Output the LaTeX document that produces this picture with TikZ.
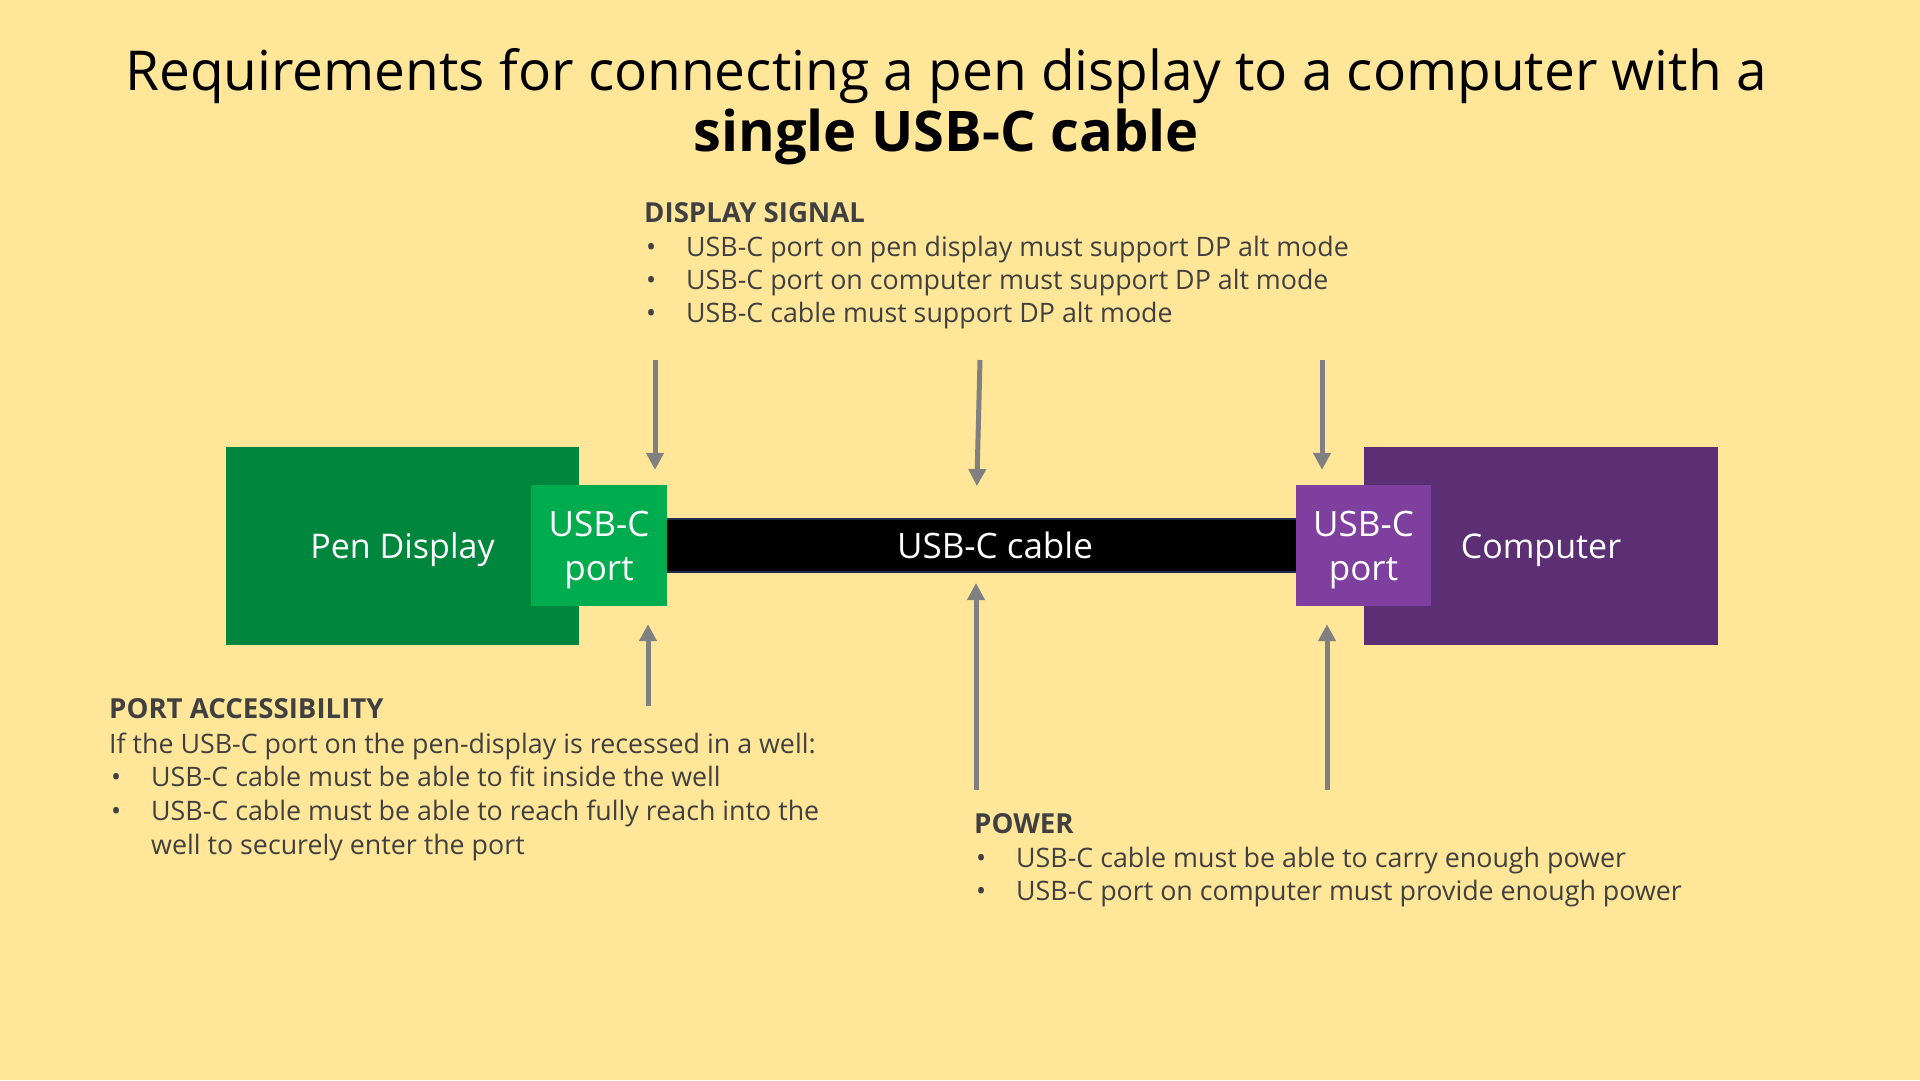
\documentclass[tikz,border=0pt]{standalone}
\usepackage{fontspec}
\setmainfont{Open Sans}
\usetikzlibrary{arrows.meta}

\definecolor{bg}{HTML}{FFE699}
\definecolor{pengreen}{HTML}{00873D}
\definecolor{portgreen}{HTML}{00AC4E}
\definecolor{pcpurple}{HTML}{5C2E73}
\definecolor{portpurple}{HTML}{7F3F9F}
\definecolor{txtgray}{HTML}{404040}
\definecolor{arrowgray}{HTML}{808080}
\definecolor{cableedge}{HTML}{1F2D4A}

\newcommand{\bulmark}{\makebox[40pt][l]{\textbullet}}

\begin{document}
\begin{tikzpicture}[x=1pt,y=-1pt,
  block/.style={rectangle, inner sep=0pt, text=white, align=center, text depth=0pt,
    font=\fontsize{34}{44}\selectfont},
  portbox/.style={block, font=\fontsize{35}{44}\selectfont},
  arr/.style={draw=arrowgray, line width=5pt, -{Triangle[width=17pt,length=17pt]}},
  body/.style={anchor=base west, inner sep=0pt, text=txtgray,
    font=\fontsize{26.8}{33}\selectfont},
  head/.style={body, font=\fontsize{27.6}{33}\selectfont\bfseries},
  ttl/.style={anchor=base, inner sep=0pt, text=black}]

% page background
\fill[bg] (0,0) rectangle (1920,1080);
\useasboundingbox (0,0) rectangle (1920,1080);

% title
\node[ttl, font=\fontsize{55}{64}\selectfont] (title1) at (946,90)
  {Requirements for connecting a pen display to a computer with a};
\node[ttl, font=\fontsize{56}{64}\selectfont\bfseries] (title2) at (946,151)
  {single USB-C cable};

% devices, cable and ports
\node[block, fill=pengreen, minimum width=353pt, minimum height=198pt] (pen) at (402.5,546) {Pen Display};
\node[block, fill=pcpurple, minimum width=354pt, minimum height=198pt] (pc) at (1541,546) {Computer};
\node[block, font=\fontsize{35}{44}\selectfont, fill=black, draw=cableedge, line width=2pt,
  minimum width=670pt, minimum height=53pt] (cable) at (995,545.5) {USB-C cable};
\node[portbox, fill=portgreen, minimum width=136pt, minimum height=121pt] (gport) at (599,545.5) {USB-C\\port};
\node[portbox, fill=portpurple, minimum width=135pt, minimum height=121pt] (cport) at (1363.5,545.5) {USB-C\\port};

% display signal block
\node[head] (dshead) at (644,222) {DISPLAY SIGNAL};
\node[body] (ds1txt) at (646,256) {\bulmark USB-C port on pen display must support DP alt mode};
\node[body] (ds2txt) at (646,289) {\bulmark USB-C port on computer must support DP alt mode};
\node[body] (ds3txt) at (646,322) {\bulmark USB-C cable must support DP alt mode};

% port accessibility block
\node[head] (pahead) at (109,718) {PORT ACCESSIBILITY};
\node[body] (pa0txt) at (109,753) {If the USB-C port on the pen-display is recessed in a well:};
\node[body] (pa1txt) at (111,786) {\bulmark USB-C cable must be able to fit inside the well};
\node[body] (pa2txt) at (111,820) {\bulmark USB-C cable must be able to reach fully reach into the};
\node[body] (pa3txt) at (111,854) {\hspace*{40pt}well to securely enter the port};

% power block
\node[head] (pwhead) at (974,833) {POWER};
\node[body] (pw1txt) at (976,867) {\bulmark USB-C cable must be able to carry enough power};
\node[body] (pw2txt) at (976,900) {\bulmark USB-C port on computer must provide enough power};

% arrow tails
\coordinate (ds1) at (655,360);
\coordinate (ds2) at (980,360);
\coordinate (ds3) at (1322,360);
\coordinate (pa1) at (648,706);
\coordinate (pw1) at (976,790);
\coordinate (pw2) at (1327,790);

% arrows onto the ports and cable
\draw[arr, shorten >=15pt] (ds1) -- (ds1 |- gport.north);
\draw[arr, shorten >=32pt] (ds2) -- ([xshift=-19pt]cable.north);
\draw[arr, shorten >=15pt] (ds3) -- (ds3 |- cport.north);
\draw[arr, shorten >=18pt] (pa1) -- (pa1 |- gport.south);
\draw[arr, shorten >=10pt] (pw1) -- (pw1 |- cable.south);
\draw[arr, shorten >=18pt] (pw2) -- (pw2 |- cport.south);
\end{tikzpicture}
\end{document}
